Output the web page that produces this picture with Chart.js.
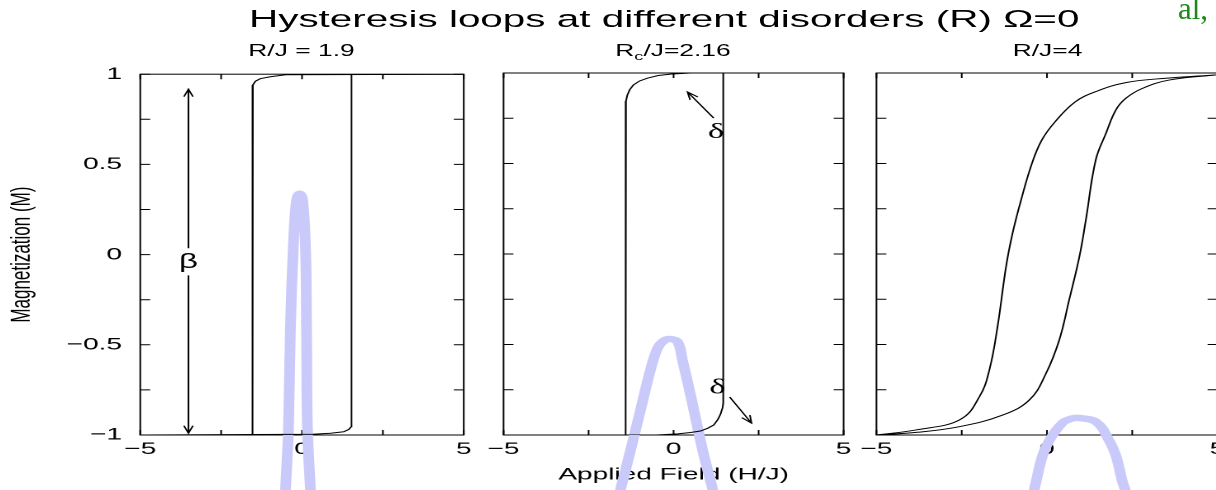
<!DOCTYPE html>
<html>
<head>
<meta charset="utf-8">
<script src="https://cdn.jsdelivr.net/npm/chart.js@4.4.1/dist/chart.umd.min.js"></script>
<style>
    html, body { margin: 0; padding: 0; background: #fff; }
    body { width: 1216px; height: 490px; overflow: hidden; position: relative; font-family: 'Liberation Sans', Arial, sans-serif; }
    /* la figure d'origine est étirée horizontalement : on étire tout le bloc */
    #slide { position: absolute; left: 0; top: 0; width: 737px; height: 490px; transform: scaleX(1.65); transform-origin: 0 0; }
    #mainTitle { position: absolute; top: 7px; font-size: 24.5px; line-height: 24.5px; white-space: nowrap; color: #000; }
    .subtitle { position: absolute; top: 43px; font-size: 16px; line-height: 16px; white-space: nowrap; transform: translateX(-50%); color: #000; }
    .subtitle sub { font-size: 11px; vertical-align: -4px; line-height: 0; }
    .panel { position: absolute; z-index: 1; }
    #aside { position: absolute; left: 1178px; top: -9px; font-family: 'Liberation Serif', serif; font-size: 31px; color: #1b8a1b; white-space: nowrap; }
</style>
</head>
<body>
<div id="slide">
    <div id="mainTitle">Hysteresis loops at different disorders (R) &Omega;=0</div>
</div>
<div id="aside">al,</div>

<script>
// Libellés des axes
const fieldTickLabels = [-5, 0, 5];
const magTickLabels = [-1, -0.5, 0, 0.5, 1];
const panelTitles = ['R/J = 1.9', 'R<sub>c</sub>/J=2.16', 'R/J=4'];

// R/J = 1.9 : branche haute (champ décroissant) et branche basse (champ croissant)
const h19Upper = [5, -0.5, -0.98, -1.29, -1.44, -1.52, -1.53, -1.53];
const m19Upper = [1, 0.997, 0.986, 0.975, 0.961, 0.94, 0.92, -1];
const h19Lower = [-5, 0.33, 0.88, 1.29, 1.45, 1.52, 1.53, 1.53];
const m19Lower = [-1, -0.996, -0.99, -0.982, -0.969, -0.954, -0.93, 1];

// Rc/J = 2.16
const h216Upper = [5, 0.5, -0.09, -0.45, -0.76, -1.0, -1.18, -1.29, -1.36, -1.40, -1.41, -1.41];
const m216Upper = [1, 1, 0.994, 0.986, 0.972, 0.956, 0.934, 0.908, 0.878, 0.845, 0.82, -1];
const h216Lower = [-5, -0.5, 0.12, 0.5, 0.79, 1.0, 1.18, 1.30, 1.38, 1.44, 1.46, 1.46];
const m216Lower = [-1, -1, -0.994, -0.986, -0.978, -0.963, -0.945, -0.915, -0.885, -0.85, -0.823, 1];

// R/J = 4
const h4Upper = [5, 3.48, 2.31, 1.43, 0.83, 0.24, -0.15, -0.44, -0.76, -1.01, -1.20, -1.45, -1.69, -1.98, -2.57, -3.84, -5];
const m4Upper = [0.99, 0.971, 0.947, 0.897, 0.841, 0.731, 0.63, 0.501, 0.298, 0.114, -0.07, -0.402, -0.641, -0.788, -0.917, -0.972, -1];
const h4Lower = [-5, -3.8, -2.57, -1.30, -0.52, -0.03, 0.36, 0.65, 0.95, 1.14, 1.43, 1.73, 2.02, 2.31, 2.80, 3.58, 5];
const m4Lower = [-1, -0.985, -0.954, -0.89, -0.807, -0.66, -0.475, -0.254, -0.015, 0.188, 0.52, 0.667, 0.796, 0.86, 0.915, 0.961, 0.99];

// Traits de stylet (annotations à la main), en coordonnées de chaque panneau
const penH1 = [-0.51, -0.42, -0.36, -0.26, -0.17, -0.08, 0.015, 0.11, 0.14, 0.17, 0.26];
const penM1 = [-1.30, -0.97, -0.42, 0.077, 0.30, 0.337, 0.31, 0.022, -0.42, -0.97, -1.30];
const penH2 = [-1.56, -1.26, -0.97, -0.68, -0.47, -0.29, -0.09, 0.12, 0.26, 0.50, 0.85, 1.15];
const penM2 = [-1.30, -1.08, -0.86, -0.64, -0.52, -0.48, -0.47, -0.486, -0.586, -0.78, -1.08, -1.30];
const penH3 = [-0.37, -0.31, -0.14, 0.07, 0.45, 0.71, 0.95, 1.44, 1.82, 2.03, 2.20, 2.29];
const penM3 = [-1.30, -1.25, -1.12, -1.03, -0.934, -0.91, -0.906, -0.928, -1.03, -1.12, -1.25, -1.30];

// Flèches et symboles (h1, m1, h2, m2)
const betaArrows = [[-3.51, 0.035, -3.51, 0.917], [-3.51, -0.115, -3.51, -0.99]];
const betaLabel = [-3.51, -0.045];
const deltaArrows = [[1.18, 0.751, 0.41, 0.895], [1.65, -0.79, 2.29, -0.934]];
const deltaLabels = [[1.25, 0.67], [1.29, -0.74]];

/**
 * Mise en page (pixels écran)
 */
const STRETCH = 1.65;
const PLOT_TOP = 73;
const PLOT_BOTTOM = 435;
const panelEdges = [[140, 463], [503, 843], [877, 1218]];
const FONT = "'Liberation Sans', Arial, sans-serif";

Chart.defaults.font.family = FONT;
Chart.defaults.color = '#000';

function fmt(v) {
    return String(v).replace('-', '\u2212');
}

function toPoints(hs, ms) {
    return hs.map((h, i) => ({ x: h, y: ms[i] }));
}

function drawArrow(ctx, x1, y1, x2, y2) {
    const ang = Math.atan2(y2 - y1, x2 - x1);
    const len = 8;
    ctx.beginPath();
    ctx.moveTo(x1, y1);
    ctx.lineTo(x2, y2);
    ctx.moveTo(x2 - len * Math.cos(ang - 0.35), y2 - len * Math.sin(ang - 0.35));
    ctx.lineTo(x2, y2);
    ctx.lineTo(x2 - len * Math.cos(ang + 0.35), y2 - len * Math.sin(ang + 0.35));
    ctx.stroke();
}

/**
 * Cadre, graduations intérieures, flèches et symboles
 */
const marksPlugin = {
    id: 'marks',
    beforeDatasetsDraw(chart, args, opts) {
        const { ctx, chartArea: a, scales: { x, y } } = chart;
        ctx.save();
        ctx.strokeStyle = '#000';
        ctx.fillStyle = '#000';
        ctx.lineWidth = 1;
        ctx.strokeRect(a.left, a.top, a.right - a.left, a.bottom - a.top);

        ctx.beginPath();
        x.ticks.forEach(t => {
            const px = x.getPixelForValue(t.value);
            ctx.moveTo(px, a.bottom); ctx.lineTo(px, a.bottom - 5);
            ctx.moveTo(px, a.top); ctx.lineTo(px, a.top + 5);
        });
        y.ticks.forEach(t => {
            const py = y.getPixelForValue(t.value);
            ctx.moveTo(a.left, py); ctx.lineTo(a.left + 6, py);
            ctx.moveTo(a.right, py); ctx.lineTo(a.right - 6, py);
        });
        ctx.stroke();

        (opts.arrows || []).forEach(ar => {
            drawArrow(ctx,
                x.getPixelForValue(ar[0]), y.getPixelForValue(ar[1]),
                x.getPixelForValue(ar[2]), y.getPixelForValue(ar[3]));
        });

        ctx.textAlign = 'center';
        ctx.textBaseline = 'middle';
        (opts.labels || []).forEach(l => {
            ctx.font = l.font;
            ctx.fillText(l.text, x.getPixelForValue(l.pos[0]), y.getPixelForValue(l.pos[1]));
        });
        ctx.restore();
    }
};

function loopDataset(hs, ms, tension) {
    return {
        data: toPoints(hs, ms),
        showLine: true,
        borderColor: '#000',
        borderWidth: 1,
        pointRadius: 0,
        tension: tension || 0
    };
}

function penDataset(hs, ms) {
    return {
        data: toPoints(hs, ms),
        showLine: true,
        borderColor: 'rgb(202, 202, 250)',
        borderWidth: 6.5,
        borderCapStyle: 'round',
        borderJoinStyle: 'round',
        pointRadius: 0,
        tension: 0.4,
        clip: false
    };
}

function makePanel(index, datasets, marks, extra) {
    const [left, right] = panelEdges[index];
    const padL = index === 0 ? 140 : 30;
    const padR = 20, padT = 20, padB = 55;

    const slide = document.getElementById('slide');
    const box = document.createElement('div');
    box.className = 'panel';
    box.style.left = ((left - padL) / STRETCH) + 'px';
    box.style.top = (PLOT_TOP - padT) + 'px';
    box.style.width = ((right - left + padL + padR) / STRETCH) + 'px';
    box.style.height = (PLOT_BOTTOM - PLOT_TOP + padT + padB) + 'px';
    const canvas = document.createElement('canvas');
    box.appendChild(canvas);
    slide.appendChild(box);

    const title = document.createElement('div');
    title.className = 'subtitle';
    title.innerHTML = panelTitles[index];
    title.style.left = ((left + right) / 2 / STRETCH) + 'px';
    slide.appendChild(title);

    new Chart(canvas, {
        type: 'scatter',
        data: { datasets: datasets },
        options: {
            responsive: true,
            maintainAspectRatio: false,
            devicePixelRatio: 2,
            animation: false,
            events: [],
            layout: { padding: { top: padT, right: padR / STRETCH, left: 0, bottom: 0 } },
            plugins: {
                legend: { display: false },
                tooltip: { enabled: false },
                marks: marks
            },
            scales: {
                x: {
                    type: 'linear',
                    min: -5,
                    max: 5,
                    grid: { display: false, drawTicks: false },
                    border: { display: false },
                    ticks: {
                        stepSize: 2.5,
                        autoSkip: false,
                        maxRotation: 0,
                        padding: 4,
                        font: { size: 17 },
                        callback: v => fieldTickLabels.includes(v) ? fmt(v) : ''
                    },
                    title: extra.xTitle ? {
                        display: true,
                        text: extra.xTitle,
                        font: { size: 17 },
                        padding: { top: 0, bottom: 5 }
                    } : { display: false },
                    afterFit: s => { s.height = padB; }
                },
                y: {
                    type: 'linear',
                    min: -1,
                    max: 1,
                    grid: { display: false, drawTicks: false },
                    border: { display: false },
                    ticks: {
                        display: !!extra.yLabels,
                        stepSize: 0.25,
                        autoSkip: false,
                        padding: 11,
                        font: { size: 17 },
                        callback: v => magTickLabels.includes(v) ? fmt(v) : ''
                    },
                    title: extra.yTitle ? {
                        display: true,
                        text: extra.yTitle,
                        font: { size: 17 },
                        padding: { top: 3, bottom: 0 }
                    } : { display: false },
                    afterFit: s => { s.width = padL / STRETCH; }
                }
            }
        },
        plugins: [marksPlugin]
    });
}

document.addEventListener('DOMContentLoaded', function() {
    const title = document.getElementById('mainTitle');
    title.style.left = (249 / STRETCH) + 'px';

    makePanel(0,
        [loopDataset(h19Upper, m19Upper), loopDataset(h19Lower, m19Lower), penDataset(penH1, penM1)],
        {
            arrows: betaArrows,
            labels: [{ text: '\u03B2', pos: betaLabel, font: "20px " + FONT }]
        },
        { yLabels: true, yTitle: 'Magnetization (M)' });

    makePanel(1,
        [loopDataset(h216Upper, m216Upper), loopDataset(h216Lower, m216Lower), penDataset(penH2, penM2)],
        {
            arrows: deltaArrows,
            labels: deltaLabels.map(p => ({ text: '\u03B4', pos: p, font: "21px 'Liberation Serif', serif" }))
        },
        { xTitle: 'Applied Field (H/J)' });

    makePanel(2,
        [loopDataset(h4Upper, m4Upper, 0.4), loopDataset(h4Lower, m4Lower, 0.4), penDataset(penH3, penM3)],
        {},
        {});
});
</script>
</body>
</html>
